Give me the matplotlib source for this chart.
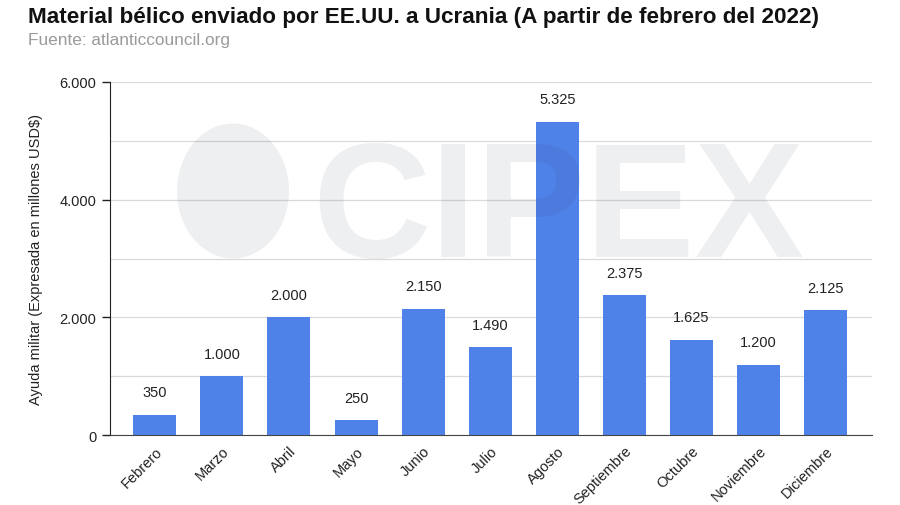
import matplotlib
matplotlib.use("Agg")
import matplotlib.pyplot as plt
from matplotlib.patches import Ellipse
from matplotlib.ticker import FuncFormatter, MultipleLocator

plt.rcParams['font.family'] = ['Liberation Sans', 'DejaVu Sans']

meses = ["Febrero", "Marzo", "Abril", "Mayo", "Junio", "Julio", "Agosto",
         "Septiembre", "Octubre", "Noviembre", "Diciembre"]
ayuda = [350, 1000, 2000, 250, 2150, 1490, 5325, 2375, 1625, 1200, 2125]


def miles(v, pos=None):
    return "{:,.0f}".format(v).replace(",", ".")


fig = plt.figure(figsize=(9, 5.06), dpi=100)
ax = fig.add_axes([0.122, 0.138, 0.847, 0.698])
ax.set_facecolor("none")

x = range(len(meses))
ax.bar(x, ayuda, width=0.64, color="#4f82e9", zorder=2)
for i, v in enumerate(ayuda):
    ax.annotate(miles(v), (i, v), xytext=(0, 11), textcoords="offset points",
                ha="center", va="bottom", fontsize=10.5, color="#222222")

ax.set_xlim(-0.67, 10.69)
ax.set_ylim(0, 6000)
ax.yaxis.set_major_locator(MultipleLocator(2000))
ax.yaxis.set_minor_locator(MultipleLocator(1000))
ax.yaxis.set_major_formatter(FuncFormatter(miles))
ax.grid(axis="y", which="both", color="#d9d9d9", linewidth=0.9, zorder=0)
ax.tick_params(axis="y", which="major", length=6, width=1, color="#222222",
               labelsize=10.5, labelcolor="#222222")
ax.tick_params(axis="y", which="minor", length=0)
ax.set_xticks(list(x))
ax.set_xticklabels(meses, rotation=45, ha="right", rotation_mode="anchor",
                   fontsize=10.5, color="#222222")
ax.tick_params(axis="x", length=0, pad=6)
for s in ["top", "right"]:
    ax.spines[s].set_visible(False)
ax.spines["left"].set_color("#222222")
ax.spines["bottom"].set_color("#444444")
ax.set_ylabel("Ayuda militar (Expresada en millones USD$)", fontsize=10.5,
              color="#222222", labelpad=12)

# marca de agua
fig.patches.append(Ellipse((233 / 900, 1 - 192 / 506), 112 / 900, 135 / 506,
                           transform=fig.transFigure, facecolor="#2a3550",
                           edgecolor="none", alpha=0.08, zorder=5))
fig.text(558 / 900, 1 - 257 / 506, "CIPEX", fontsize=118, fontweight="bold",
         ha="center", va="baseline", color="#2a3550", alpha=0.08, zorder=5)

fig.text(28 / 900, 1 - 17 / 506, "Material bélico enviado por EE.UU. a Ucrania (A partir de febrero del 2022)",
         fontsize=16.2, fontweight="bold", color="#111111", va="center")
fig.text(28 / 900, 1 - 41 / 506, "Fuente: atlanticcouncil.org", fontsize=12.4,
         color="#9a9a9a", va="center")

fig.savefig("out.png", dpi=100)
